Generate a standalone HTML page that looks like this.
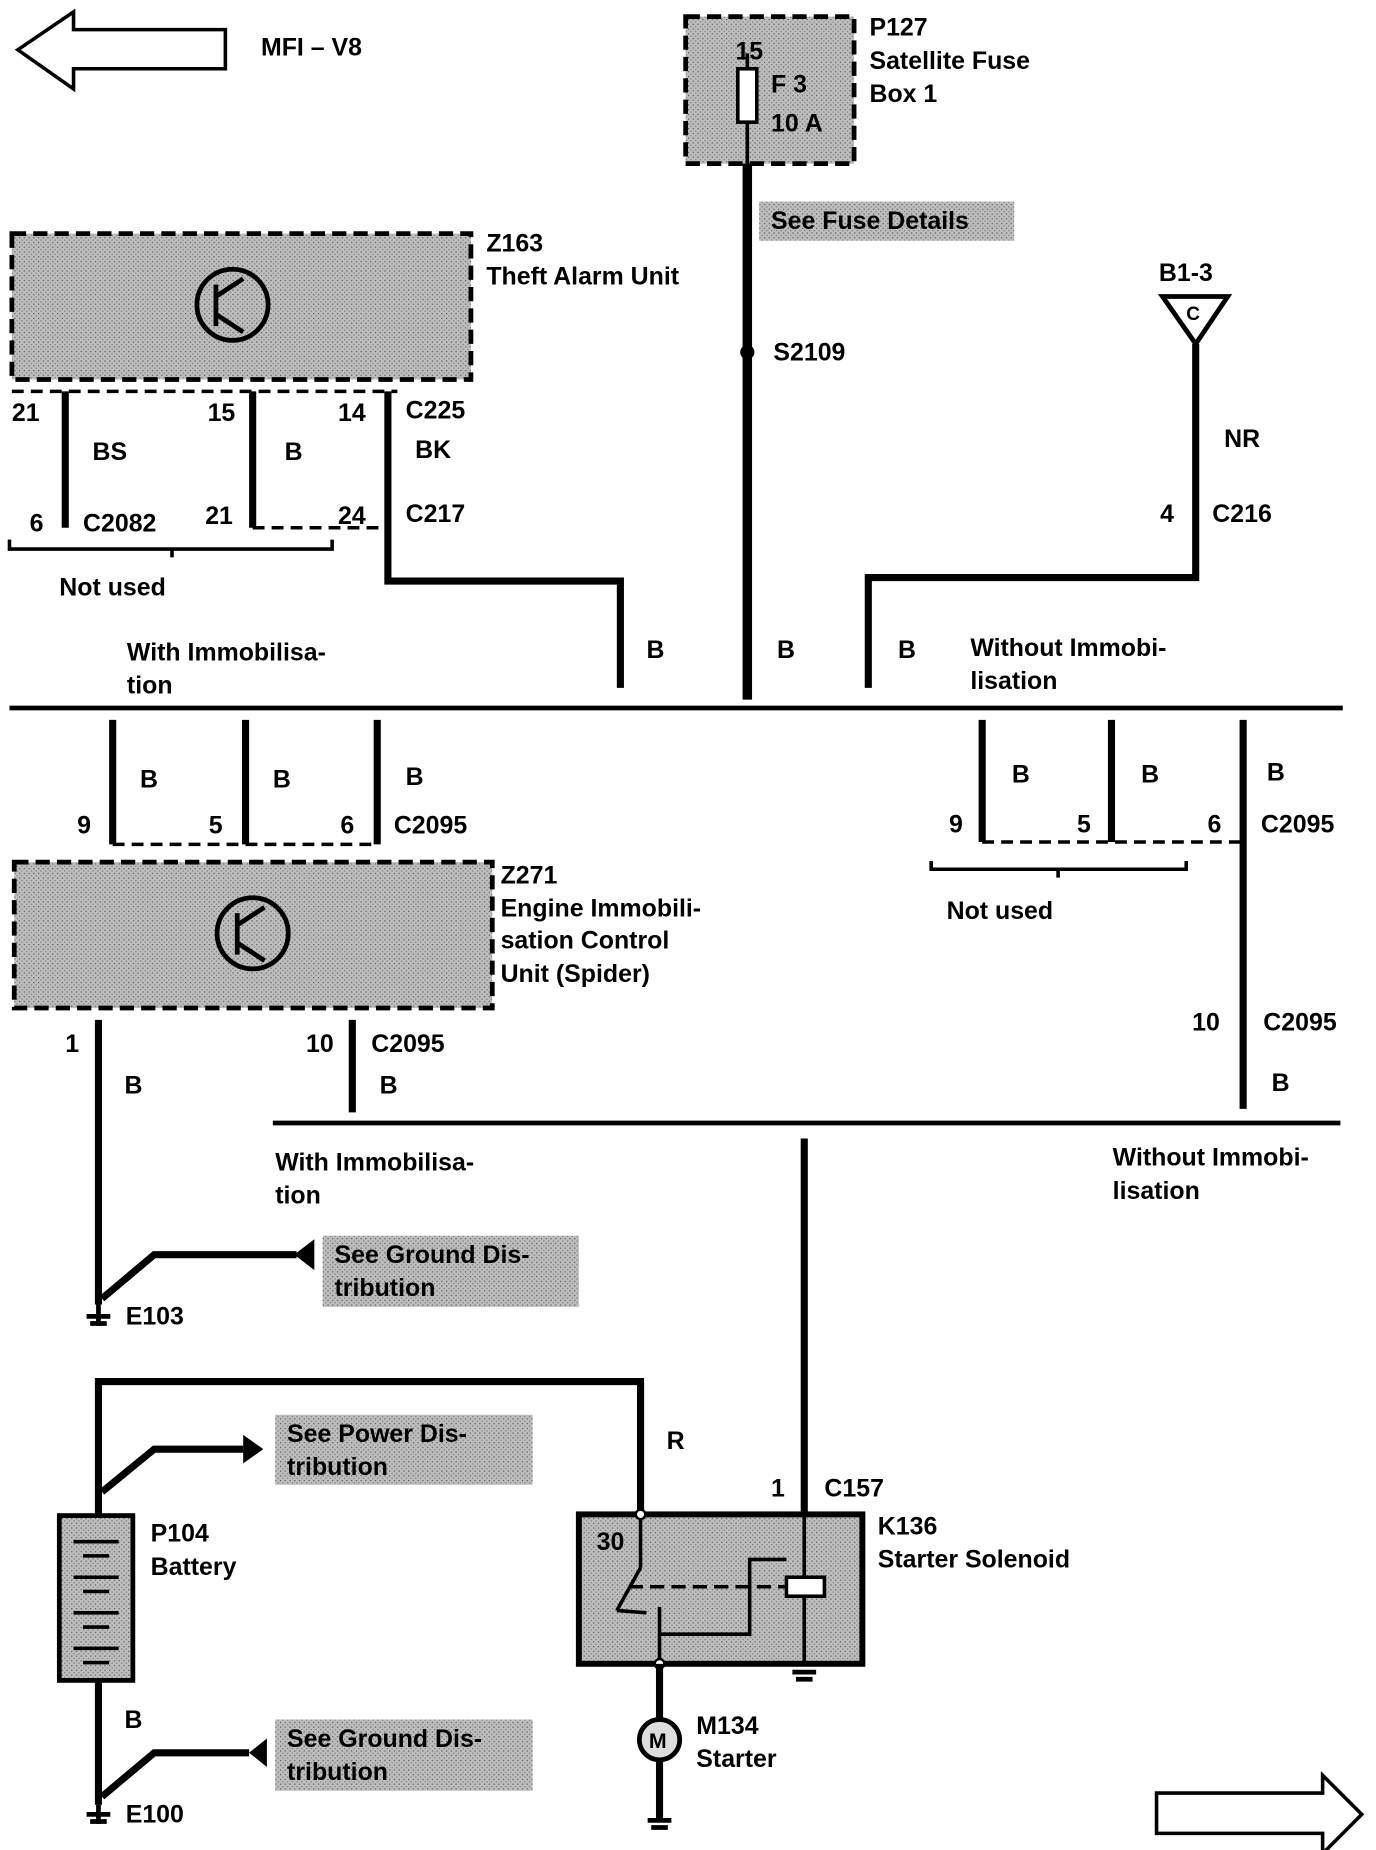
<!DOCTYPE html>
<html><head><meta charset="utf-8"><style>
html,body{margin:0;padding:0;background:#fff}
svg{display:block}
text{font-family:"Liberation Sans",sans-serif;font-weight:bold;font-size:21px;fill:#000}
</style></head><body>
<svg width="1376" height="1850" viewBox="0 0 1160 1560" preserveAspectRatio="none" xmlns="http://www.w3.org/2000/svg">
<defs>
<pattern id="g" width="4" height="4" patternUnits="userSpaceOnUse"><rect width="4" height="4" fill="#bdbdbd"/><rect width="1" height="1" fill="#555"/><rect x="2" y="2" width="1" height="1" fill="#777"/></pattern>
</defs>
<g fill="none" stroke="#000">
<!-- top-left arrow -->
<path d="M15,42 L62,10 L62,25 L190,25 L190,58 L62,58 L62,75 Z" stroke-width="3"/>
<!-- bottom-right arrow -->
<path d="M1148,1530 L1115,1497 L1115,1512 L975,1512 L975,1546 L1115,1546 L1115,1563 Z" stroke-width="3"/>
</g>
<text x="220" y="47">MFI – V8</text>

<!-- P127 -->
<rect x="578" y="14" width="142" height="124" fill="url(#g)" stroke="#000" stroke-width="4" stroke-dasharray="12,6"/>
<rect x="622" y="58" width="16" height="45" fill="#fff" stroke="#000" stroke-width="3"/>
<line x1="630" y1="45" x2="630" y2="58" stroke="#000" stroke-width="3"/>
<line x1="630" y1="103" x2="630" y2="138" stroke="#000" stroke-width="3"/>
<text x="620" y="50">15</text><text x="650" y="78">F 3</text><text x="650" y="111">10 A</text>
<text x="733" y="30">P127</text><text x="733" y="58">Satellite Fuse</text><text x="733" y="86">Box 1</text>
<line x1="630" y1="138" x2="630" y2="590" stroke="#000" stroke-width="8"/>
<rect x="640" y="170" width="215" height="33" fill="url(#g)"/>
<text x="650" y="193">See Fuse Details</text>
<circle cx="630" cy="297" r="6" fill="#000"/>
<text x="652" y="304">S2109</text>

<!-- Z163 -->
<rect x="10" y="197" width="387" height="123" fill="url(#g)" stroke="#000" stroke-width="4" stroke-dasharray="12,6"/>
<circle cx="196" cy="257" r="30" fill="none" stroke="#000" stroke-width="4"/>
<path d="M182,240 L182,275 M182,250 L205,235 M182,265 L205,280" stroke="#000" stroke-width="4" fill="none"/>
<text x="410" y="212">Z163</text><text x="410" y="240">Theft Alarm Unit</text>
<line x1="10" y1="330" x2="335" y2="330" stroke="#000" stroke-width="3" stroke-dasharray="10,6"/>
<g stroke="#000" stroke-width="6" fill="none">
<line x1="55" y1="330" x2="55" y2="445"/>
<line x1="213" y1="330" x2="213" y2="445"/>
<path d="M327,330 L327,490 L523,490 L523,580"/>
<path d="M1008,290 L1008,487 L732,487 L732,580"/>
</g>
<line x1="213" y1="445" x2="322" y2="445" stroke="#000" stroke-width="3" stroke-dasharray="10,6"/>
<path d="M8,455 L8,463 L280,463 L280,455 M145,463 L145,470" stroke="#000" stroke-width="3" fill="none"/>
<text x="10" y="355">21</text><text x="175" y="355">15</text><text x="285" y="355">14</text><text x="342" y="353">C225</text>
<text x="78" y="388">BS</text><text x="240" y="388">B</text><text x="350" y="386">BK</text>
<text x="25" y="448">6</text><text x="70" y="448">C2082</text><text x="173" y="442">21</text><text x="285" y="442">24</text><text x="342" y="440">C217</text>
<text x="50" y="502">Not used</text>
<!-- B1-3 -->
<path d="M980,250 L1035,250 L1008,290 Z" fill="#fff" stroke="#000" stroke-width="4"/>
<text x="1000" y="270" style="font-size:16px">C</text>
<text x="977" y="237">B1-3</text><text x="1032" y="377">NR</text>
<text x="978" y="440">4</text><text x="1022" y="440">C216</text>
<text x="545" y="555">B</text><text x="655" y="555">B</text><text x="757" y="555">B</text>
<text x="107" y="557">With Immobilisa-</text><text x="107" y="585">tion</text>
<text x="818" y="553">Without Immobi-</text><text x="818" y="581">lisation</text>
<!-- bus 1 -->
<line x1="8" y1="597" x2="1132" y2="597" stroke="#000" stroke-width="4"/>
<g stroke="#000" stroke-width="6">
<line x1="95" y1="607" x2="95" y2="712"/><line x1="207" y1="607" x2="207" y2="712"/><line x1="318" y1="607" x2="318" y2="712"/>
<line x1="828" y1="607" x2="828" y2="710"/><line x1="937" y1="607" x2="937" y2="710"/><line x1="1048" y1="607" x2="1048" y2="935"/>
</g>
<line x1="95" y1="712" x2="318" y2="712" stroke="#000" stroke-width="3" stroke-dasharray="10,6"/>
<line x1="828" y1="710" x2="1048" y2="710" stroke="#000" stroke-width="3" stroke-dasharray="10,6"/>
<path d="M785,726 L785,733 L1000,733 L1000,726 M892,733 L892,740" stroke="#000" stroke-width="3" fill="none"/>
<text x="118" y="664">B</text><text x="230" y="664">B</text><text x="342" y="662">B</text>
<text x="65" y="703">9</text><text x="176" y="703">5</text><text x="287" y="703">6</text><text x="332" y="703">C2095</text>
<text x="853" y="660">B</text><text x="962" y="660">B</text><text x="1068" y="658">B</text>
<text x="800" y="702">9</text><text x="908" y="702">5</text><text x="1018" y="702">6</text><text x="1063" y="702">C2095</text>
<text x="798" y="775">Not used</text>
<text x="1005" y="869">10</text><text x="1065" y="869">C2095</text><text x="1072" y="920">B</text>
<!-- Z271 -->
<rect x="12" y="727" width="403" height="123" fill="url(#g)" stroke="#000" stroke-width="4" stroke-dasharray="12,6"/>
<circle cx="213" cy="787" r="30" fill="none" stroke="#000" stroke-width="4"/>
<path d="M200,770 L200,805 M200,780 L223,765 M200,795 L223,810" stroke="#000" stroke-width="4" fill="none"/>
<text x="422" y="745">Z271</text><text x="422" y="773">Engine Immobili-</text><text x="422" y="800">sation Control</text><text x="422" y="828">Unit (Spider)</text>
<g stroke="#000" stroke-width="6" fill="none">
<line x1="83" y1="860" x2="83" y2="1100"/>
<line x1="297" y1="860" x2="297" y2="938"/>
<line x1="678" y1="960" x2="678" y2="1277"/>
<path d="M83,1280 L83,1165 L540,1165 L540,1277"/>
<line x1="83" y1="1417" x2="83" y2="1522"/>
<path d="M86,1095 L130,1058 L250,1058" stroke-dasharray="none"/>
<path d="M86,1258 L130,1222 L205,1222"/>
<path d="M86,1515 L130,1478 L210,1478"/>
</g>
<path d="M248,1058 L265,1045 L265,1071 Z" fill="#000"/>
<path d="M205,1210 L222,1222 L205,1234 Z" fill="#000"/>
<path d="M210,1478 L225,1466 L225,1490 Z" fill="#000"/>
<text x="55" y="887">1</text><text x="105" y="922">B</text>
<text x="258" y="887">10</text><text x="313" y="887">C2095</text><text x="320" y="922">B</text>
<line x1="230" y1="947" x2="1130" y2="947" stroke="#000" stroke-width="4"/>
<text x="232" y="987">With Immobilisa-</text><text x="232" y="1015">tion</text>
<text x="938" y="983">Without Immobi-</text><text x="938" y="1011">lisation</text>
<rect x="272" y="1042" width="216" height="60" fill="url(#g)"/>
<text x="282" y="1065">See Ground Dis-</text><text x="282" y="1093">tribution</text>
<rect x="232" y="1193" width="217" height="59" fill="url(#g)"/>
<text x="242" y="1216">See Power Dis-</text><text x="242" y="1244">tribution</text>
<rect x="232" y="1450" width="217" height="60" fill="url(#g)"/>
<text x="242" y="1473">See Ground Dis-</text><text x="242" y="1501">tribution</text>
<!-- grounds -->
<g stroke="#000" stroke-width="4"><line x1="73" y1="1110" x2="93" y2="1110"/><line x1="76" y1="1116" x2="90" y2="1116"/><line x1="83" y1="1100" x2="83" y2="1118"/>
<line x1="73" y1="1530" x2="93" y2="1530"/><line x1="76" y1="1536" x2="90" y2="1536"/><line x1="83" y1="1522" x2="83" y2="1538"/>
<line x1="668" y1="1410" x2="688" y2="1410"/><line x1="671" y1="1416" x2="685" y2="1416"/>
<line x1="546" y1="1535" x2="566" y2="1535"/><line x1="549" y1="1541" x2="563" y2="1541"/></g>
<text x="106" y="1117">E103</text><text x="106" y="1537">E100</text>
<text x="562" y="1222">R</text><text x="105" y="1457">B</text>
<!-- battery -->
<rect x="50" y="1278" width="62" height="139" fill="url(#g)" stroke="#000" stroke-width="4"/>
<g stroke="#000" stroke-width="3"><line x1="62" y1="1300" x2="100" y2="1300"/><line x1="70" y1="1312" x2="92" y2="1312"/><line x1="62" y1="1330" x2="100" y2="1330"/><line x1="70" y1="1342" x2="92" y2="1342"/><line x1="62" y1="1360" x2="100" y2="1360"/><line x1="70" y1="1372" x2="92" y2="1372"/><line x1="62" y1="1390" x2="100" y2="1390"/><line x1="70" y1="1402" x2="92" y2="1402"/></g>
<text x="127" y="1300">P104</text><text x="127" y="1328">Battery</text>
<!-- solenoid -->
<rect x="488" y="1277" width="239" height="126" fill="url(#g)" stroke="#000" stroke-width="5"/>
<g stroke="#000" stroke-width="3" fill="none">
<line x1="540" y1="1277" x2="540" y2="1322"/>
<line x1="540" y1="1322" x2="520" y2="1358"/>
<line x1="520" y1="1358" x2="545" y2="1360"/>
<line x1="556" y1="1355" x2="556" y2="1403"/>
<path d="M556,1378 L632,1378 L632,1315 L663,1315"/>
<line x1="678" y1="1277" x2="678" y2="1405"/>
<line x1="530" y1="1338" x2="663" y2="1338" stroke-dasharray="12,6"/>
</g>
<rect x="663" y="1330" width="32" height="16" fill="#fff" stroke="#000" stroke-width="3"/>
<circle cx="540" cy="1277" r="4" fill="#fff" stroke="#000" stroke-width="2"/>
<circle cx="556" cy="1403" r="4" fill="#fff" stroke="#000" stroke-width="2"/>
<text x="503" y="1307">30</text>
<text x="650" y="1262">1</text><text x="695" y="1262">C157</text>
<text x="740" y="1294">K136</text><text x="740" y="1322">Starter Solenoid</text>
<line x1="556" y1="1403" x2="556" y2="1450" stroke="#000" stroke-width="6"/>
<line x1="556" y1="1484" x2="556" y2="1535" stroke="#000" stroke-width="6"/>
<circle cx="556" cy="1467" r="17" fill="#ddd" stroke="#000" stroke-width="4"/>
<text x="547" y="1474" style="font-size:18px">M</text>
<text x="587" y="1462">M134</text><text x="587" y="1490">Starter</text>
</svg>
</body></html>
